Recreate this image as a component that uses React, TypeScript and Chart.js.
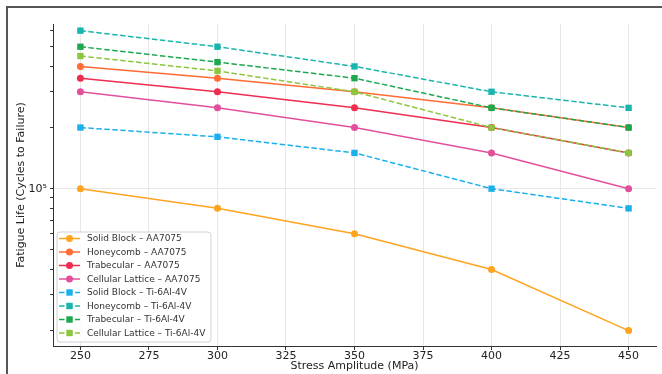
import React, { useEffect, useRef } from 'react';
import { Chart, registerables } from 'chart.js';

Chart.register(...registerables);

const stressLevels = [250, 300, 350, 400, 450];
const xTickValues = [250, 275, 300, 325, 350, 375, 400, 425, 450];
const yTickValues = [2e4, 3e4, 4e4, 5e4, 6e4, 7e4, 8e4, 9e4, 1e5, 2e5, 3e5, 4e5, 5e5, 6e5];
const yLabelledTicks = [1e5];

const seriesLabels = [
  'Solid Block – AA7075',
  'Honeycomb – AA7075',
  'Trabecular – AA7075',
  'Cellular Lattice – AA7075',
  'Solid Block – Ti-6Al-4V',
  'Honeycomb – Ti-6Al-4V',
  'Trabecular – Ti-6Al-4V',
  'Cellular Lattice – Ti-6Al-4V',
];

const solidBlockAA = [100000, 80000, 60000, 40000, 20000];
const honeycombAA = [400000, 350000, 300000, 250000, 200000];
const trabecularAA = [350000, 300000, 250000, 200000, 150000];
const cellularAA = [300000, 250000, 200000, 150000, 100000];
const solidBlockTi = [200000, 180000, 150000, 100000, 80000];
const honeycombTi = [600000, 500000, 400000, 300000, 250000];
const trabecularTi = [500000, 420000, 350000, 250000, 200000];
const cellularTi = [450000, 380000, 300000, 200000, 150000];

const seriesValues = [
  solidBlockAA, honeycombAA, trabecularAA, cellularAA,
  solidBlockTi, honeycombTi, trabecularTi, cellularTi,
];

const seriesColors = [
  '#FFA41F', '#FF6B33', '#EE2D50', '#E2509C',
  '#1BB0EA', '#18B5AC', '#1CA850', '#8CC63F',
];

const FONT = '"DejaVu Sans", sans-serif';

const legendPlugin = {
  id: 'insideLegend',
  afterDraw(chart: any) {
    const ctx = chart.ctx;
    const bx = 57, by = 232, bw = 154, bh = 110, r = 3;
    ctx.save();
    ctx.beginPath();
    ctx.moveTo(bx + r, by);
    ctx.lineTo(bx + bw - r, by);
    ctx.quadraticCurveTo(bx + bw, by, bx + bw, by + r);
    ctx.lineTo(bx + bw, by + bh - r);
    ctx.quadraticCurveTo(bx + bw, by + bh, bx + bw - r, by + bh);
    ctx.lineTo(bx + r, by + bh);
    ctx.quadraticCurveTo(bx, by + bh, bx, by + bh - r);
    ctx.lineTo(bx, by + r);
    ctx.quadraticCurveTo(bx, by, bx + r, by);
    ctx.closePath();
    ctx.fillStyle = 'rgba(255,255,255,0.85)';
    ctx.fill();
    ctx.strokeStyle = '#d2d2d2';
    ctx.lineWidth = 1;
    ctx.stroke();

    chart.data.datasets.forEach((ds: any, i: number) => {
      const y = 238.5 + i * 13.5;
      ctx.beginPath();
      ctx.setLineDash(ds.borderDash || []);
      ctx.strokeStyle = ds.borderColor;
      ctx.lineWidth = 1.5;
      ctx.moveTo(59, y);
      ctx.lineTo(80, y);
      ctx.stroke();
      ctx.setLineDash([]);
      ctx.fillStyle = ds.borderColor;
      if (ds.pointStyle === 'rect') {
        ctx.fillRect(69.5 - 3.2, y - 3.2, 6.4, 6.4);
      } else {
        ctx.beginPath();
        ctx.arc(69.5, y, 3.5, 0, Math.PI * 2);
        ctx.fill();
      }
      ctx.fillStyle = '#333';
      ctx.font = '9px ' + FONT;
      ctx.textBaseline = 'middle';
      ctx.textAlign = 'left';
      ctx.fillText(ds.label, 87, y + 0.5);
    });
    ctx.restore();
  },
};

export default function App() {
  const canvasRef = useRef<HTMLCanvasElement | null>(null);

  useEffect(() => {
    if (!canvasRef.current) return;
    Chart.defaults.font.family = FONT;
    const datasets = seriesLabels.map((label, i) => {
      const isTi = i >= 4;
      return {
        label,
        data: stressLevels.map((x, j) => ({ x, y: seriesValues[i][j] })),
        borderColor: seriesColors[i],
        backgroundColor: seriesColors[i],
        borderWidth: 1.5,
        borderDash: isTi ? [5.5, 2.5] : [],
        pointStyle: isTi ? 'rect' : 'circle',
        pointRadius: isTi ? 4.5 : 3.5,
        pointBorderWidth: 0,
        pointBackgroundColor: seriesColors[i],
        tension: 0,
        fill: false,
        order: 7 - i,
      };
    });

    const chart = new Chart(canvasRef.current, {
      type: 'line',
      data: { datasets } as any,
      options: {
        responsive: false,
        animation: false,
        layout: { padding: { left: 0, right: 6, top: 24, bottom: 0 } },
        plugins: {
          legend: { display: false },
          tooltip: { enabled: false },
        },
        scales: {
          x: {
            type: 'linear',
            min: 240,
            max: 460,
            afterBuildTicks: (scale: any) => {
              scale.ticks = xTickValues.map((value) => ({ value }));
            },
            afterFit: (scale: any) => {
              scale.height = 28;
            },
            grid: {
              color: '#e8e8e8',
              lineWidth: 1,
              drawTicks: true,
              tickLength: 4,
              tickColor: '#333',
            },
            border: { display: true, color: '#333', width: 1 },
            ticks: {
              autoSkip: false,
              maxRotation: 0,
              padding: 0,
              color: '#222',
              font: { size: 11, family: FONT },
              callback: (v: any) => String(v),
            },
            title: {
              display: true,
              text: 'Stress Amplitude (MPa)',
              color: '#222',
              font: { size: 11, family: FONT },
              padding: { top: 0, bottom: 1.4 },
            },
          },
          y: {
            type: 'logarithmic',
            min: 16800,
            max: 647000,
            afterBuildTicks: (scale: any) => {
              scale.ticks = yTickValues.map((value) => ({ value, major: yLabelledTicks.includes(value) }));
            },
            afterFit: (scale: any) => {
              scale.width = 53;
            },
            grid: {
              color: (ctx: any) =>
                ctx.tick && yLabelledTicks.includes(ctx.tick.value) ? '#e8e8e8' : 'rgba(0,0,0,0)',
              lineWidth: 1,
              drawTicks: true,
              tickLength: 3,
              tickColor: '#333',
            },
            border: { display: true, color: '#333', width: 1 },
            ticks: {
              autoSkip: false,
              padding: 3,
              color: '#222',
              font: { size: 11, family: FONT },
              callback: (v: any) => (yLabelledTicks.includes(Number(v)) ? '10⁵' : ''),
            },
            title: {
              display: true,
              text: 'Fatigue Life (Cycles to Failure)',
              color: '#222',
              font: { size: 11, family: FONT },
              padding: { top: 14.4, bottom: 0 },
            },
          },
        },
      } as any,
      plugins: [legendPlugin],
    });
    return () => chart.destroy();
  }, []);

  return (
    <div style={{ position: 'absolute', left: 0, top: 0, width: 662, height: 374, background: '#fff', overflow: 'hidden' }}>
      <canvas ref={canvasRef} width={662} height={374} style={{ position: 'absolute', left: 0, top: 0 }} />
      <div style={{ position: 'absolute', left: 6, top: 6, width: 656, height: 2, background: '#555' }} />
      <div style={{ position: 'absolute', left: 6, top: 6, width: 2, height: 368, background: '#555' }} />
    </div>
  );
}
